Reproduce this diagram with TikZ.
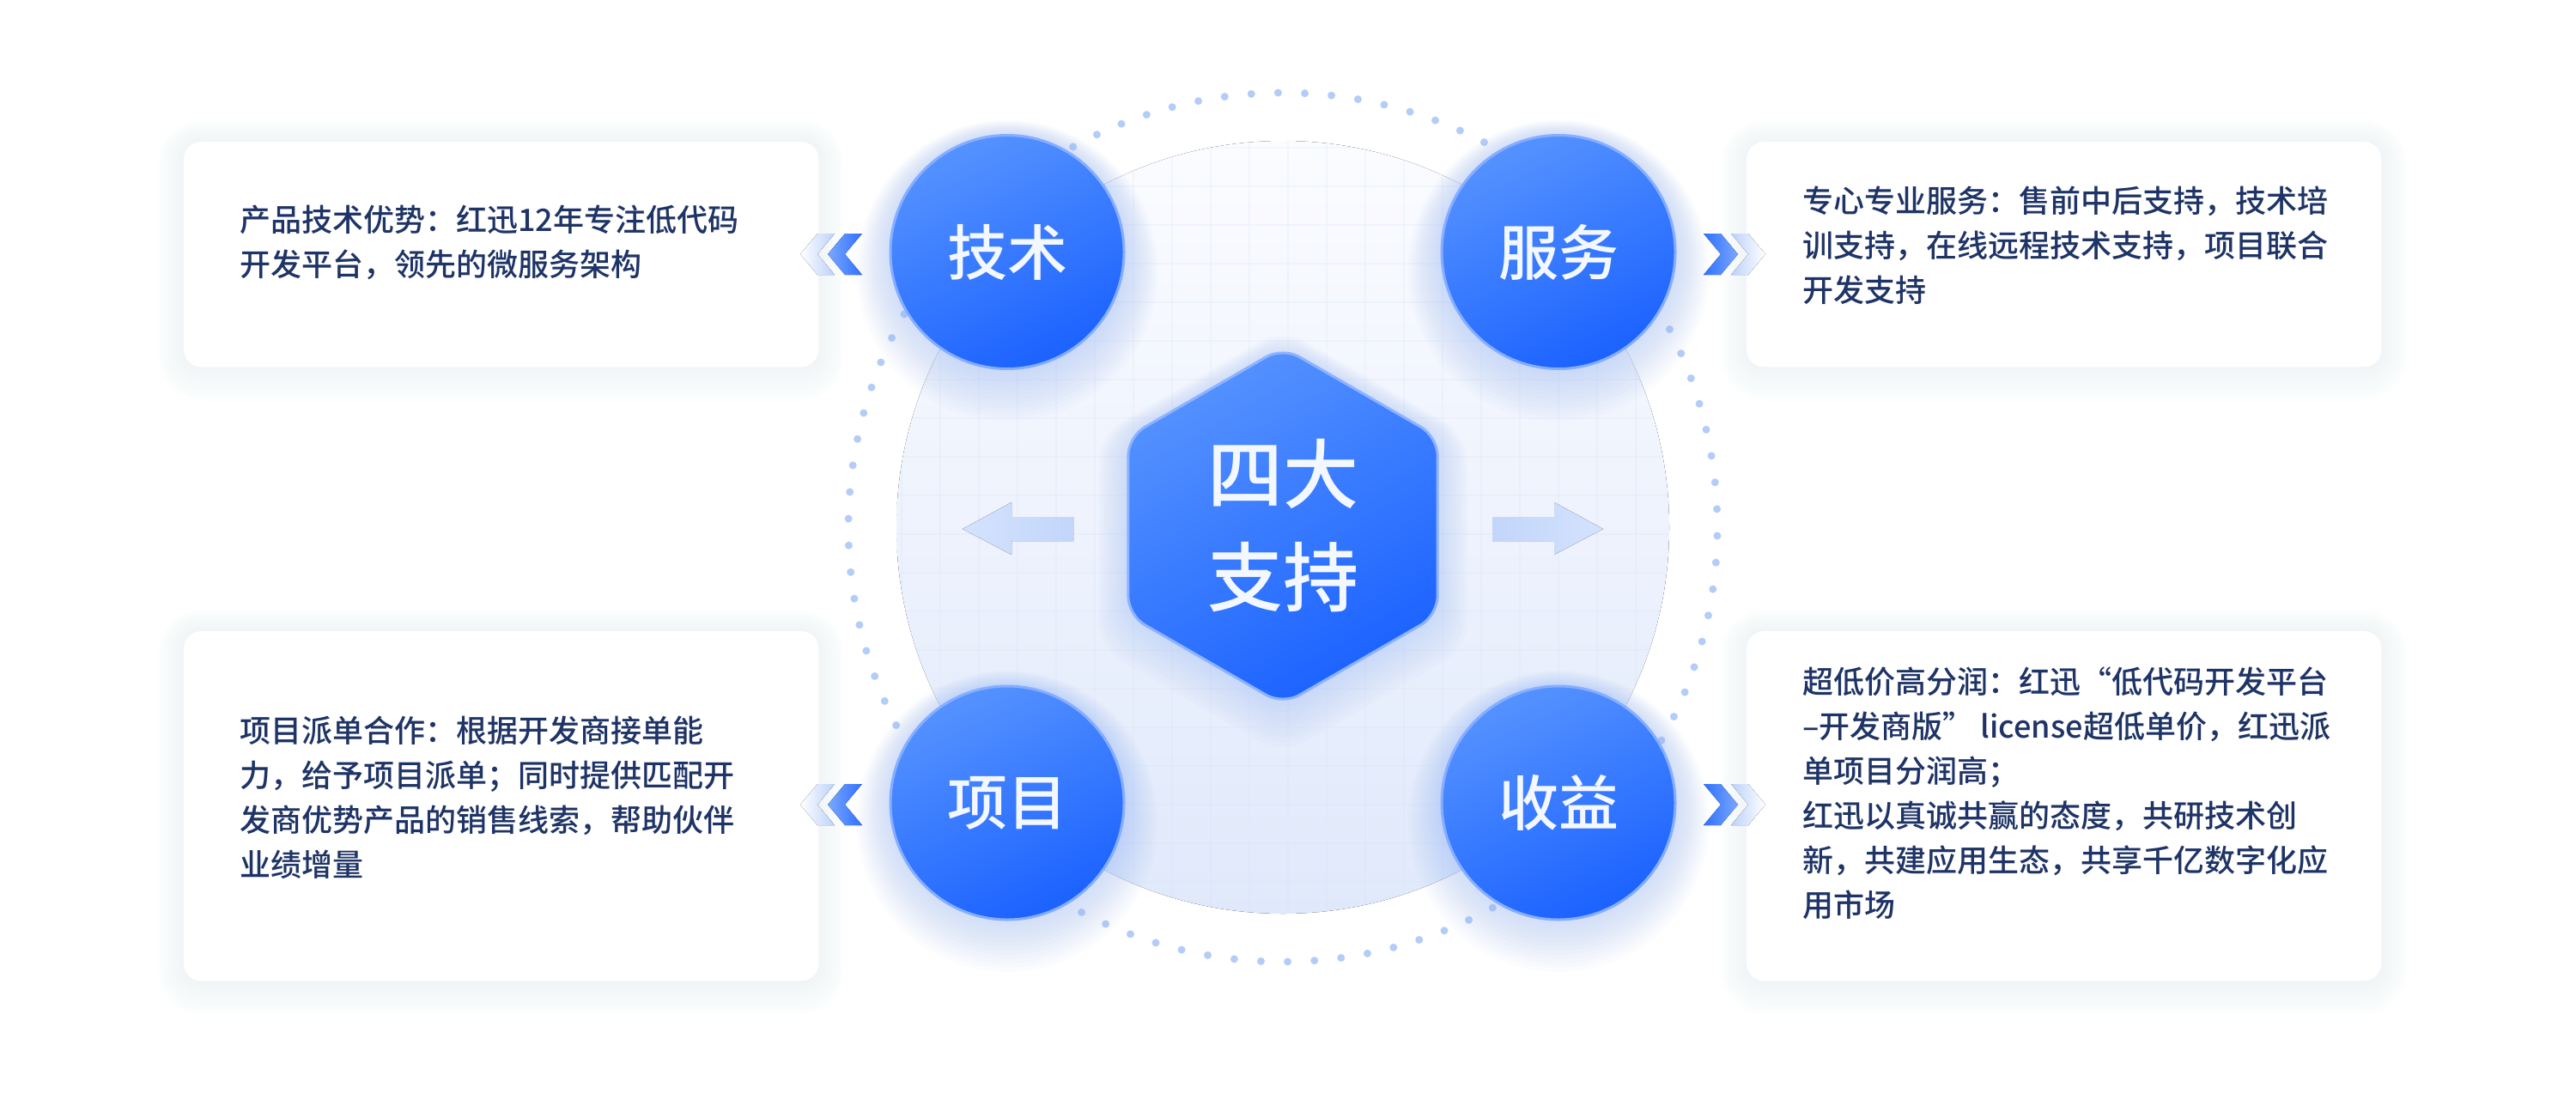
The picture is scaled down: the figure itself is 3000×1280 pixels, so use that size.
\documentclass[tikz,border=0pt]{standalone}
\usepackage{fontspec}
\setmainfont{Noto Sans CJK SC}
\newfontfamily\labfont{Noto Sans CJK SC Medium}
\newfontfamily\bodyfont{Noto Sans CJK SC Medium}
\usetikzlibrary{shapes.geometric}
\definecolor{txt}{HTML}{1F3466}
\definecolor{cA}{HTML}{5592FF}
\definecolor{cB}{HTML}{1B62FF}
\definecolor{rim}{HTML}{86AEFF}
\definecolor{hexrim}{HTML}{8DB2FF}
\definecolor{labw}{HTML}{F3F7FF}
\definecolor{glow}{HTML}{8FB2F8}
\definecolor{dotc}{HTML}{B4CCF8}
\definecolor{gridc}{HTML}{D6E1F7}
\definecolor{diskTop}{HTML}{FBFCFF}
\definecolor{diskBot}{HTML}{E0E9FB}
\definecolor{arrA}{HTML}{D4E2FC}
\definecolor{arrB}{HTML}{C2D6FB}
\definecolor{shadowc}{HTML}{CFDCF8}
\definecolor{chevDa}{HTML}{7AA7FF}
\definecolor{chevDb}{HTML}{2F70FF}
\definecolor{chevLa}{HTML}{FFFFFF}
\definecolor{chevLb}{HTML}{BBD1FB}
\newcommand\cardglow[4]{%
  \foreach \k in {1,...,10}{%
    \fill[shadowc,opacity=0.025,rounded corners=20pt+3pt*\k]
      ({#1-3*\k},{#2-2.5*\k}) rectangle ({#3+3*\k},{#4+4*\k});}}
\begin{document}
\begin{tikzpicture}[x=1pt,y=-1pt,
  body/.style={anchor=base west, inner sep=0pt, text=txt, font=\bodyfont\fontsize{36}{52}\selectfont},
  card/.style={rectangle, rounded corners=20pt, fill=white, anchor=north west, inner sep=0pt, minimum width=739pt},
  ball/.style={circle, minimum size=272pt, inner sep=0pt, draw=rim, line width=3pt,
    top color=cA, bottom color=cB, shading angle=25, text=labw,
    font=\labfont\fontsize{70}{80}\selectfont},
  hexa/.style={regular polygon, regular polygon sides=6, shape border rotate=30,
    minimum size=416pt, inner sep=0pt, rounded corners=22pt, draw=hexrim, line width=3pt,
    top color=cA, bottom color=cB, shading angle=30, text=labw, align=center,
    font=\labfont\fontsize{88}{120}\selectfont},
  hexglow/.style={regular polygon, regular polygon sides=6, shape border rotate=30,
    inner sep=0pt, rounded corners=30pt, fill=glow, opacity=0.035},
  chevdark/.style={left color=chevDa, right color=chevDb},
  chevdarkR/.style={left color=chevDb, right color=chevDa},
  chevlight/.style={left color=chevLa, right color=chevLb},
  chevlightR/.style={left color=chevLb, right color=chevLa},
  arrowL/.style={left color=arrA, right color=arrB},
  arrowR/.style={left color=arrB, right color=arrA}
]
\fill[white] (0,0) rectangle (3000,1280);
\useasboundingbox (0,0) rectangle (3000,1280);

% ---------- cards ----------
\cardglow{214}{165}{953}{427}
\cardglow{2034}{165}{2773}{427}
\cardglow{214}{735}{953}{1142}
\cardglow{2034}{735}{2773}{1142}
\node[card, minimum height=262pt] (bTL) at (214,165) {};
\node[card, minimum height=262pt] (bTR) at (2034,165) {};
\node[card, minimum height=407pt] (bBL) at (214,735) {};
\node[card, minimum height=407pt] (bBR) at (2034,735) {};

\node[body] (tTL) at (279,269) {\parbox[t]{720pt}{产品技术优势：红迅12年专注低代码\\开发平台，领先的微服务架构}};
\node[body] (tTR) at (2099,247) {\parbox[t]{720pt}{专心专业服务：售前中后支持，技术培\\训支持，在线远程技术支持，项目联合\\开发支持}};
\node[body] (tBL) at (279,864) {\parbox[t]{720pt}{项目派单合作：根据开发商接单能\\力，给予项目派单；同时提供匹配开\\发商优势产品的销售线索，帮助伙伴\\业绩增量}};
\node[body] (tBR) at (2099,807) {\parbox[t]{720pt}{超低价高分润：红迅“低代码开发平台\\–开发商版” license超低单价，红迅派\\单项目分润高；\\红迅以真诚共赢的态度，共研技术创\\新，共建应用生态，共享千亿数字化应\\用市场}};

% ---------- central area ----------
\coordinate (ctr) at (1494,614);
\coordinate (hexc) at (1494,612.5);
\foreach \i in {0,...,101}
  \fill[dotc] ([shift={(\i*3.5294+2.4:506pt)}]ctr) circle (4.5pt);
\fill[top color=diskTop, bottom color=diskBot] (ctr) circle (450pt);
\begin{scope}
  \clip (ctr) circle (450pt);
  \foreach \x in {1050,1095,...,1950}
    \draw[gridc, line width=1.5pt, opacity=0.22] (\x,160) -- (\x,1075);
  \foreach \y in {172,217,...,1072}
    \draw[gridc, line width=1.5pt, opacity=0.22] (1040,\y) -- (1950,\y);
\end{scope}

% arrows
\coordinate (aL) at (1121,616);
\coordinate (aR) at (1867,616);
\fill[arrowL] (aL) -- ++(57,-31) -- ++(0,17) -- ++(72,0) -- ++(0,28) -- ++(-72,0) -- ++(0,16) -- cycle;
\fill[arrowR] (aR) -- ++(-57,-31) -- ++(0,17) -- ++(-72,0) -- ++(0,28) -- ++(72,0) -- ++(0,16) -- cycle;

% glows
\coordinate (cT) at (1173,293.5);
\coordinate (cS) at (1815,293.5);
\coordinate (cX) at (1173,935);
\coordinate (cY) at (1815,935);
\foreach \c in {cT,cS,cX,cY}
  \foreach \k in {1,...,12}
    \fill[glow, opacity=0.035] ([yshift=-1.8pt*\k]\c) circle ({137pt+3.2pt*\k});
\foreach \k in {1,...,10}
  \node[hexglow, minimum size={416pt+8pt*\k}] (hg\k) at ([yshift=-1.8pt*\k]hexc) {};

% nodes
\node[ball] (tech) at (cT) {技术};
\node[ball] (serv) at (cS) {服务};
\node[ball] (proj) at (cX) {项目};
\node[ball] (prof) at (cY) {收益};
\node[hexa] (hex) at (hexc) {四大\\支持};

% chevrons
\foreach \yy in {296,937}{
  \fill[chevlight] (932,\yy) -- ++(20,-24) -- ++(20,0) -- ++(-20,24) -- ++(20,24) -- ++(-20,0) -- cycle;
  \fill[chevdark] (964,\yy) -- ++(20,-24) -- ++(20,0) -- ++(-20,24) -- ++(20,24) -- ++(-20,0) -- cycle;
  \fill[chevlightR] (2056,\yy) -- ++(-20,-24) -- ++(-20,0) -- ++(20,24) -- ++(-20,24) -- ++(20,0) -- cycle;
  \fill[chevdarkR] (2024,\yy) -- ++(-20,-24) -- ++(-20,0) -- ++(20,24) -- ++(-20,24) -- ++(20,0) -- cycle;
}
\end{tikzpicture}
\end{document}
